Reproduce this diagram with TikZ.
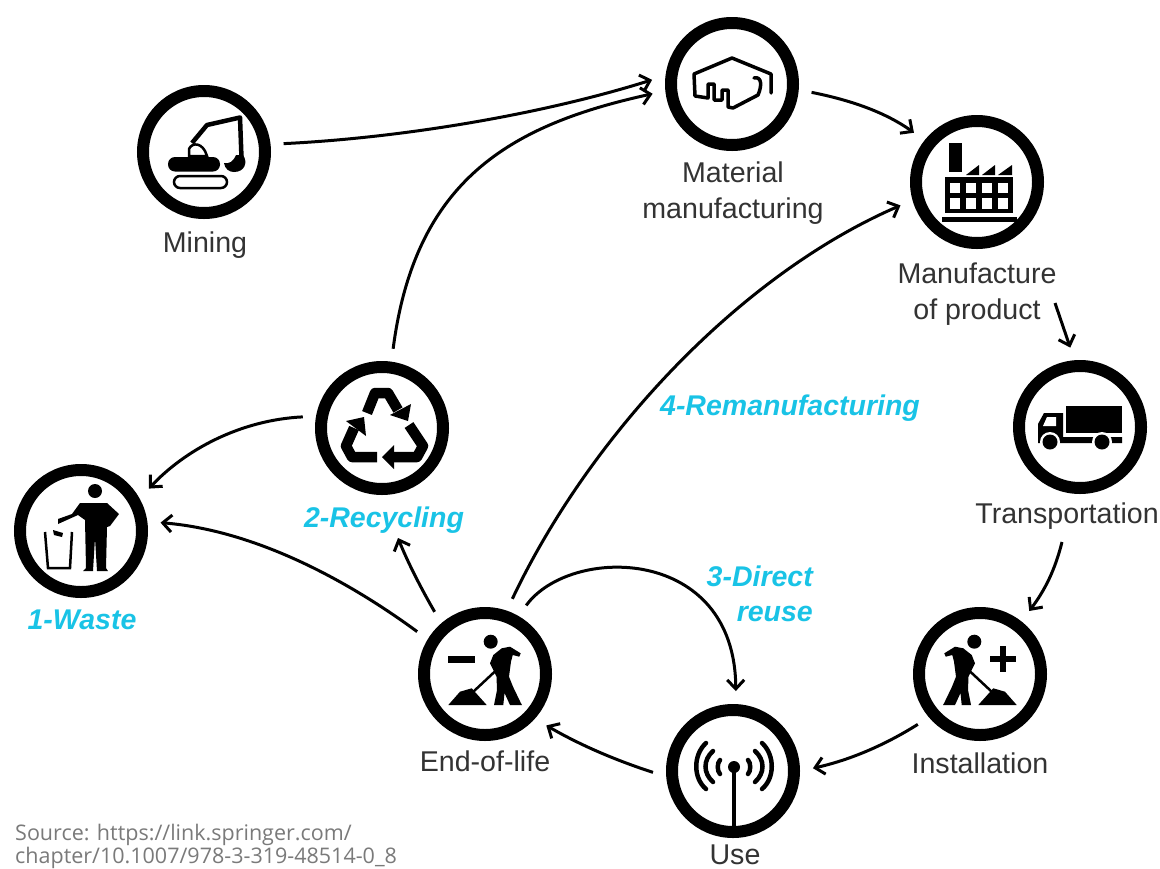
\documentclass[tikz,border=0pt]{standalone}
\usepackage{fontspec}
\setmainfont{Liberation Sans}
\newfontfamily\srcfont{Open Sans}
\usetikzlibrary{arrows.meta}
\definecolor{cyanlab}{HTML}{19C3E6}
\definecolor{darklab}{HTML}{333333}
\definecolor{srclab}{HTML}{7A7A7A}
\tikzset{
  ring/.style={draw=black,line width=12pt,circle,minimum size=122pt,inner sep=0pt,outer sep=19pt},
  lab/.style={text=darklab,font=\fontsize{28.6}{36}\selectfont,align=center,inner sep=0pt},
  loop/.style={text=cyanlab,font=\fontsize{28.5}{35}\selectfont\bfseries\itshape,align=center,inner sep=0pt},
  src/.style={text=srclab,font=\srcfont\fontsize{21.5}{21}\selectfont,align=left,inner sep=0pt,anchor=north west},
  conn/.style={draw=black,line width=3pt,-{Straight Barb[length=9pt,width=17pt,line width=3pt]}},
}
\newcommand{\workerfig}{%
  \fill (5.7,-32.3) circle[radius=7];
  \fill (5,-10.7)--(8.3,-19)--(16.7,-25.7)--(25,-27.3)--(35.7,-20.7)--(34.3,-17.3)--(27.7,-19)--(26,-12.3)--(24,2.7)--(28,12.7)--(35.7,28.7)--(37,31)--(25,31)--(19.5,19)--(18.3,31)--(9,31)--(12,16)--(11.5,2.7)--(8.3,-4)--cycle;
  \draw[line width=2.5pt] (13.3,-5.7)--(-11.7,17.7);
  \fill (-36.7,31)--(-25,17.7)--(-13.3,14.3)--(1.7,31)--cycle;
}
\begin{document}
\begin{tikzpicture}[x=1pt,y=-1pt]
\useasboundingbox (0,0) rectangle (1160,868);
\fill[white] (0,0) rectangle (1160,868);

% rings
\node[ring] (mining) at (204,152) {};
\node[ring] (material) at (732,84) {};
\node[ring] (factory) at (977,182) {};
\node[ring] (truck) at (1080,427) {};
\node[ring] (install) at (980,674) {};
\node[ring] (use) at (733,771) {};
\node[ring] (endlife) at (485,674) {};
\node[ring] (recycle) at (382,428) {};
\node[ring] (waste) at (81,531) {};

% labels
\node[lab] (lmining) at (205,245) {Mining};
\node[lab] (lmaterial) at (733,193) {Material\\manufacturing};
\node[lab] (lfactory) at (977,294) {Manufacture\\of product};
\node[lab] (ltruck) at (1067,516) {Transportation};
\node[lab] (linstall) at (980,763) {Installation};
\node[lab] (lend) at (485,761) {End-of-life};
\node[lab] (luse) at (735,855) {Use};
\node[loop] (lwaste) at (82,620) {1-Waste};
\node[loop] (lrecycle) at (384,520) {2-Recycling};
\node[loop] (lreman) at (790,408) {4-Remanufacturing};
\node[loop,align=right,anchor=north east] (lreuse) at (813,566) {3-Direct\\reuse};
\node[src] (lsource) at (15,824) {Source: https://link.springer.com/\\chapter/10.1007/978-3-319-48514-0\_8};

% free ends
\coordinate (c5) at (1055,303);
\coordinate (c6) at (1062,542);
\coordinate (c10) at (398,538);

% connectors
\draw[conn] (mining.6) .. controls (400,138) and (540,115) .. (material.177);
\draw[conn] (recycle.82) .. controls (415,180) and (510,125) .. (material.187);
\draw[conn] (material.-6) .. controls (850,100) and (885,112) .. (factory.142);
\draw[conn] (endlife.70) .. controls (590,435) and (740,275) .. (factory.197);
\draw[conn] (c5) -- (truck.97);
\draw[conn] (c6) .. controls (1055,570) and (1045,590) .. (install.52);
\draw[conn] (install.219) .. controls (885,745) and (850,760) .. (use.2);
\draw[conn] (use.181) .. controls (615,760) and (580,745) .. (endlife.-40);
\draw[conn] (endlife.59) .. controls (570,545) and (735,545) .. (use.88);
\draw[conn] (endlife.129) .. controls (422,590) and (408,563) .. (c10);
\draw[conn] (endlife.148) .. controls (340,575) and (250,530) .. (waste.6);
\draw[conn] (recycle.172) .. controls (240,420) and (185,450) .. (waste.32);

% excavator
\fill[rounded corners=7pt] (168,157) rectangle (220,171.5);
\draw[line width=2.5pt,rounded corners=6pt] (174,176) rectangle (227,188);
\draw[line width=2.5pt,fill=white] (189,156) -- (189,149) .. controls (192,142) and (203,142) .. (207,156) -- cycle;
\draw[line width=4.5pt,line join=round] (192,143) -- (207,125) -- (240,117.5) -- (241.5,158);
\fill (224,163) .. controls (229,164) and (233,162) .. (236,155) -- (243,155) .. controls (248,162) and (245,172) .. (234,172) .. controls (229,172) and (225,169) .. (224,163) -- cycle;

% material icon
\draw[line width=3.5pt,line join=round,line cap=round] (771,93)--(771,74)--(732,58)--(694,74)--(695,96)--(708,98)--(708,84)--(714,84)--(714,100)--(722,100)--(722,90)--(728,90)--(728,107)--(733,108)--(758,95) .. controls (762,86) and (762,76) .. (754,78);

% factory icon
\fill (949,143) rectangle (962,172);
\fill (966,175)--(979,165)--(979,175)--cycle;
\fill (982,175)--(995,165)--(995,175)--cycle;
\fill (998,175)--(1012,165)--(1012,175)--cycle;
\fill (945,177) rectangle (1013,213);
\foreach \wx in {950,966,982,998}{
  \fill[white] (\wx,183) rectangle ++(10,10);
  \fill[white] (\wx,198) rectangle ++(10,11);
}
\fill (942,217) rectangle (1017,222);

% truck icon
\fill (1066,406) rectangle (1122,433);
\fill (1038,443)--(1038,424)--(1044,413)--(1063,413)--(1063,437)--(1122,437)--(1122,443)--cycle;
\fill[white] (1043,426)--(1047,417)--(1056,417)--(1056,426)--cycle;
\fill[white] (1050,442) circle[radius=10];
\fill[white] (1102,442) circle[radius=10];
\fill (1050,442) circle[radius=7.5];
\fill (1102,442) circle[radius=7.5];

% recycling icon
\draw[line width=10.5pt,line join=round] (367,413) -- (375,393) -- (388,393) -- (398,410);
\fill (411,404)--(390,415)--(408,421)--cycle;
\draw[line width=10.5pt,line join=round] (377,457) -- (352,457) -- (346,446) -- (354,428);
\fill (346,421)--(364,417)--(366,436)--cycle;
\draw[line width=10.5pt,line join=round] (409,425) -- (423,446) -- (417,457) -- (392,457);
\fill (382,457)--(394,445)--(394,469)--cycle;

% waste icon
\fill (95,491) circle[radius=7];
\fill (80,503)--(107,503)--(119,514)--(110,526)--(107,527)--(106,568)--(108,571)--(97,571)--(95,538)--(93,571)--(83,571)--(86,568)--(85,520)--(78,515)--(58,524)--(58,519)--(72,514)--cycle;
\draw[line width=2.5pt] (45,532)--(48,568)--(70,568)--(72,532);
\fill (53,530)--(63,533)--(62,537)--(54,535)--cycle;

% worker icons
\begin{scope}[shift={(485,674)}]
  \workerfig
  \fill (-37,-18) rectangle (-10,-11.5);
\end{scope}
\begin{scope}[shift={(980,674)},xscale=-1]
  \workerfig
  \fill (-36,-18) rectangle (-10,-12);
  \fill (-26,-28) rectangle (-20,-2);
\end{scope}

% antenna icon
\fill (734,767) circle[radius=6];
\draw[line width=3.5pt] (734,767) -- (734,834);
\foreach \m in {1,-1}{
  \begin{scope}[shift={(734,0)},xscale=\m]
    \draw[line width=4.5pt,line cap=round] (-28,743) .. controls (-41,755) and (-41,778) .. (-28,789);
    \draw[line width=4.5pt,line cap=round] (-21,751) .. controls (-31,760) and (-31,773) .. (-21,782);
    \draw[line width=4.5pt,line cap=round] (-14,760) .. controls (-17,763) and (-17,771) .. (-14,774);
  \end{scope}
}
\end{tikzpicture}
\end{document}
